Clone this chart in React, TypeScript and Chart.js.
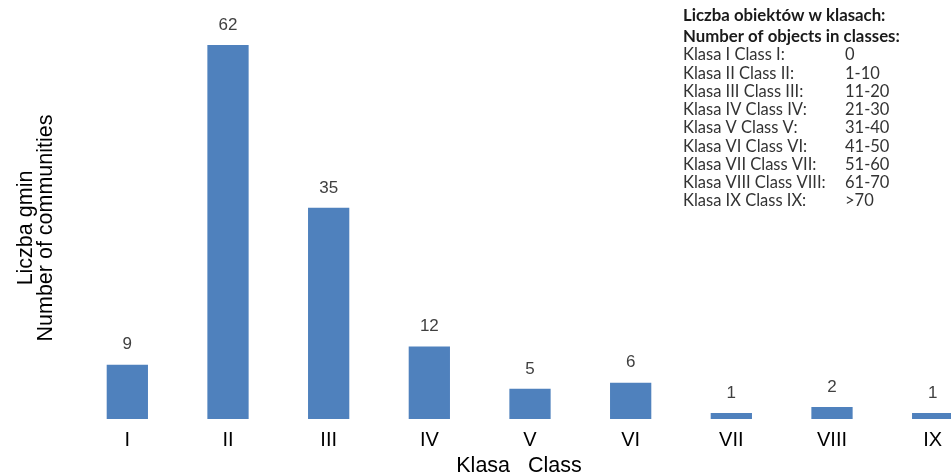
import React, { useEffect, useRef } from "react";
import { Chart, registerables } from "chart.js";

Chart.register(...registerables);

const categories = ["I", "II", "III", "IV", "V", "VI", "VII", "VIII", "IX"];
const counts = [9, 62, 35, 12, 5, 6, 1, 2, 1];
const yTitleLines = ["Liczba gmin", "Number of communities"];
const xTitle = "Klasa   Class";
const noteHeader = ["Liczba obiektów w klasach:", "Number of objects in classes:"];
const noteNames = [
  "Klasa I Class I:",
  "Klasa II Class II:",
  "Klasa III Class III:",
  "Klasa IV Class IV:",
  "Klasa V Class V:",
  "Klasa VI Class VI:",
  "Klasa VII Class VII:",
  "Klasa VIII Class VIII:",
  "Klasa IX Class IX:",
];
const noteRanges = ["0", "1-10", "11-20", "21-30", "31-40", "41-50", "51-60", "61-70", ">70"];

const BAR = "#4F81BD";
const SANS = "'Liberation Sans', Arial, sans-serif";

const textPlugin = {
  id: "extraText",
  afterDatasetsDraw(chart: any) {
    const ctx = chart.ctx;
    ctx.save();
    // data labels
    const meta = chart.getDatasetMeta(0);
    ctx.font = `17px ${SANS}`;
    ctx.fillStyle = "#404040";
    ctx.textAlign = "center";
    ctx.textBaseline = "middle";
    meta.data.forEach((el: any, i: number) => {
      ctx.fillText(String(counts[i]), el.x, el.y - 20);
    });
    // axis titles
    ctx.fillStyle = "#000";
    ctx.font = `21.5px ${SANS}`;
    ctx.fillText(xTitle, 519, 466);
    yTitleLines.forEach((t, i) => {
      ctx.save();
      ctx.translate(26 + i * 20, 228);
      ctx.rotate(-Math.PI / 2);
      ctx.fillText(t, 0, 0);
      ctx.restore();
    });
    // note box
    ctx.textAlign = "left";
    ctx.fillStyle = "#1a1a1a";
    ctx.font = `bold 16.8px Lato, sans-serif`;
    ctx.fillText(noteHeader[0], 683, 16);
    ctx.fillText(noteHeader[1], 683, 37);
    ctx.font = `16.5px Lato, sans-serif`;
    ctx.fillStyle = "#333";
    noteNames.forEach((n, i) => {
      const y = 55 + i * 18.25;
      ctx.fillText(n, 683, y);
      ctx.fillText(noteRanges[i], 845, y);
    });
    ctx.restore();
  },
};

export default function App() {
  const ref = useRef<HTMLCanvasElement>(null);
  useEffect(() => {
    const chart = new Chart(ref.current!, {
      type: "bar",
      data: {
        labels: categories,
        datasets: [
          {
            data: counts,
            backgroundColor: BAR,
            categoryPercentage: 1,
            barPercentage: 0.41,
          },
        ],
      },
      options: {
        animation: false,
        responsive: false,
        layout: { padding: { left: 77, right: 17, top: 45, bottom: 14 } },
        plugins: { legend: { display: false }, tooltip: { enabled: false } },
        scales: {
          x: {
            grid: { display: false, drawTicks: false },
            border: { display: false },
            ticks: { color: "#000", font: { size: 20, family: SANS }, padding: 9 },
          },
          y: { display: false, min: 0, max: 62 },
        },
      },
      plugins: [textPlugin],
    });
    return () => chart.destroy();
  }, []);
  return (
    <div style={{ position: "fixed", left: 0, top: 0, width: 951, height: 475, overflow: "hidden", background: "#fff" }}>
      <canvas ref={ref} width={1000} height={475} style={{ display: "block" }} />
    </div>
  );
}
